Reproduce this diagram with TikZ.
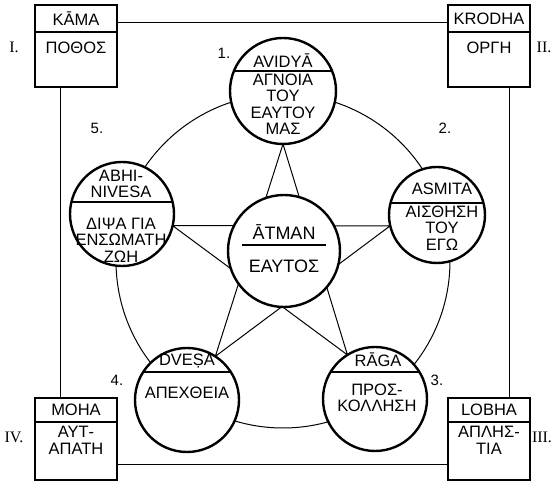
\documentclass[tikz,border=0pt]{standalone}
\usepackage{fontspec}
\setmainfont{Liberation Sans}
\newfontfamily\romfont{Liberation Serif}
\usetikzlibrary{backgrounds}

\begin{document}
\begin{tikzpicture}[x=1pt,y=1pt,
  box/.style={draw,line width=2pt,minimum width=82pt,minimum height=82pt,inner sep=0pt,outer sep=0pt},
  disc/.style={circle,draw,fill=white,line width=2.4pt,inner sep=0pt,outer sep=0pt},
  word/.style={inner sep=0pt,align=center,font=\fontsize{16.5}{16.5}\selectfont},
  numlab/.style={inner sep=0pt,font=\fontsize{15}{15}\selectfont},
  romlab/.style={inner sep=0pt,font=\romfont\fontsize{16}{16}\selectfont},
  link/.style={line width=1pt},
  divline/.style={line width=1.2pt}]
\useasboundingbox (0,0) rectangle (558,482);
\node[box] (kama) at (76,436) {};
\node[box] (krodha) at (489,436) {};
\node[box] (moha) at (76,43) {};
\node[box] (lobha) at (489,43) {};
\draw[divline] (35,450) -- (117,450);
\draw[divline] (448,450) -- (530,450);
\draw[divline] (35,60) -- (117,60);
\draw[divline] (448,60) -- (530,60);
\node[word] (kamahd) at (76,463.5) {KĀMA};
\node[word] (kamabd) at (76,434) {ΠΟΘΟΣ};
\node[word] (krodhahd) at (489,463.5) {KRODHA};
\node[word] (krodhabd) at (489,434) {ΟΡΓΗ};
\node[word] (mohahd) at (76,72) {MOHA};
\node[word] (mohabd) at (76,41.5) {ΑΥΤ-\\ΑΠΑΤΗ};
\node[word] (lobhahd) at (489,72) {LOBHA};
\node[word] (lobhabd) at (489,41.5) {ΑΠΛΗΣ-\\ΤΙΑ};
\draw[link] ([yshift=23pt]kama.east) -- ([yshift=23pt]krodha.west);
\draw[link] ([xshift=-16pt]kama.south) -- ([xshift=-16pt]moha.north);
\draw[link] ([xshift=20pt]krodha.south) -- ([xshift=20pt]lobha.north);
\draw[link] ([yshift=-26pt]moha.east) -- ([yshift=-26pt]lobha.west);
\node[disc,minimum size=106pt] (avidya) at (283,391) {};
\node[disc,minimum size=96pt] (asmita) at (437,267) {};
\node[disc,minimum size=104pt] (raga) at (375,83) {};
\node[disc,minimum size=104pt] (dvesa) at (187,82) {};
\node[disc,minimum size=104pt] (abhi) at (122,268) {};
\node[disc,minimum size=112pt] (atman) at (284,231) {};
\draw[divline] (233.9,411) -- (332.1,411);
\draw[divline] (390.5,279) -- (483.5,279);
\draw[divline] (71.4,280) -- (172.6,280);
\draw[divline] (143.2,110) -- (230.8,110);
\draw[divline] (330.6,110) -- (419.4,110);
\draw[divline] (242,237) -- (326,237);
\node[word] (avidyahd) at (283,421) {AVIDYĀ};
\node[word] (avidyabd) at (283,378) {ΑΓΝΟΙΑ\\ΤΟΥ\\ΕΑΥΤΟΥ\\ΜΑΣ};
\node[word] (asmitahd) at (442,293) {ASMITA};
\node[word] (asmitabd) at (442,254) {ΑΙΣΘΗΣΗ\\ΤΟΥ\\ΕΓΩ};
\node[word] (abhihd) at (121,298) {ABHI-\\NIVESA};
\node[word] (abhibd) at (121,242) {ΔΙΨΑ ΓΙΑ\\ΕΝΣΩΜΑΤΗ\\ΖΩΗ};
\node[word] (dvesahd) at (187,121) {DVEṢA};
\node[word] (dvesabd) at (187,89) {ΑΠΕΧΘΕΙΑ};
\node[word] (ragahd) at (378,122) {RĀGA};
\node[word] (ragabd) at (377,84) {ΠΡΟΣ-\\ΚΟΛΛΗΣΗ};
\node[word,font=\fontsize{18}{18}\selectfont] (atmanhd) at (284,250) {ĀTMAN};
\node[word,font=\fontsize{18}{18}\selectfont] (atmanbd) at (284,216) {ΕΑΥΤΟΣ};
\node[numlab] (one) at (224,429) {1.};
\node[numlab] (two) at (445,354) {2.};
\node[numlab] (three) at (437,102) {3.};
\node[numlab] (four) at (117,102) {4.};
\node[numlab] (five) at (97,354) {5.};
\node[romlab] (rI) at (14,435) {I.};
\node[romlab] (rII) at (544,435) {II.};
\node[romlab] (rIII) at (542,45) {III.};
\node[romlab] (rIV) at (14,45) {IV.};
\begin{pgfonlayer}{background}
\draw[link] (283,221) circle (167);
\draw[link] (avidya.-90) -- (dvesa.57) -- (asmita.193) -- (abhi.-13) -- (raga.122) -- cycle;
\end{pgfonlayer}
\end{tikzpicture}
\end{document}
